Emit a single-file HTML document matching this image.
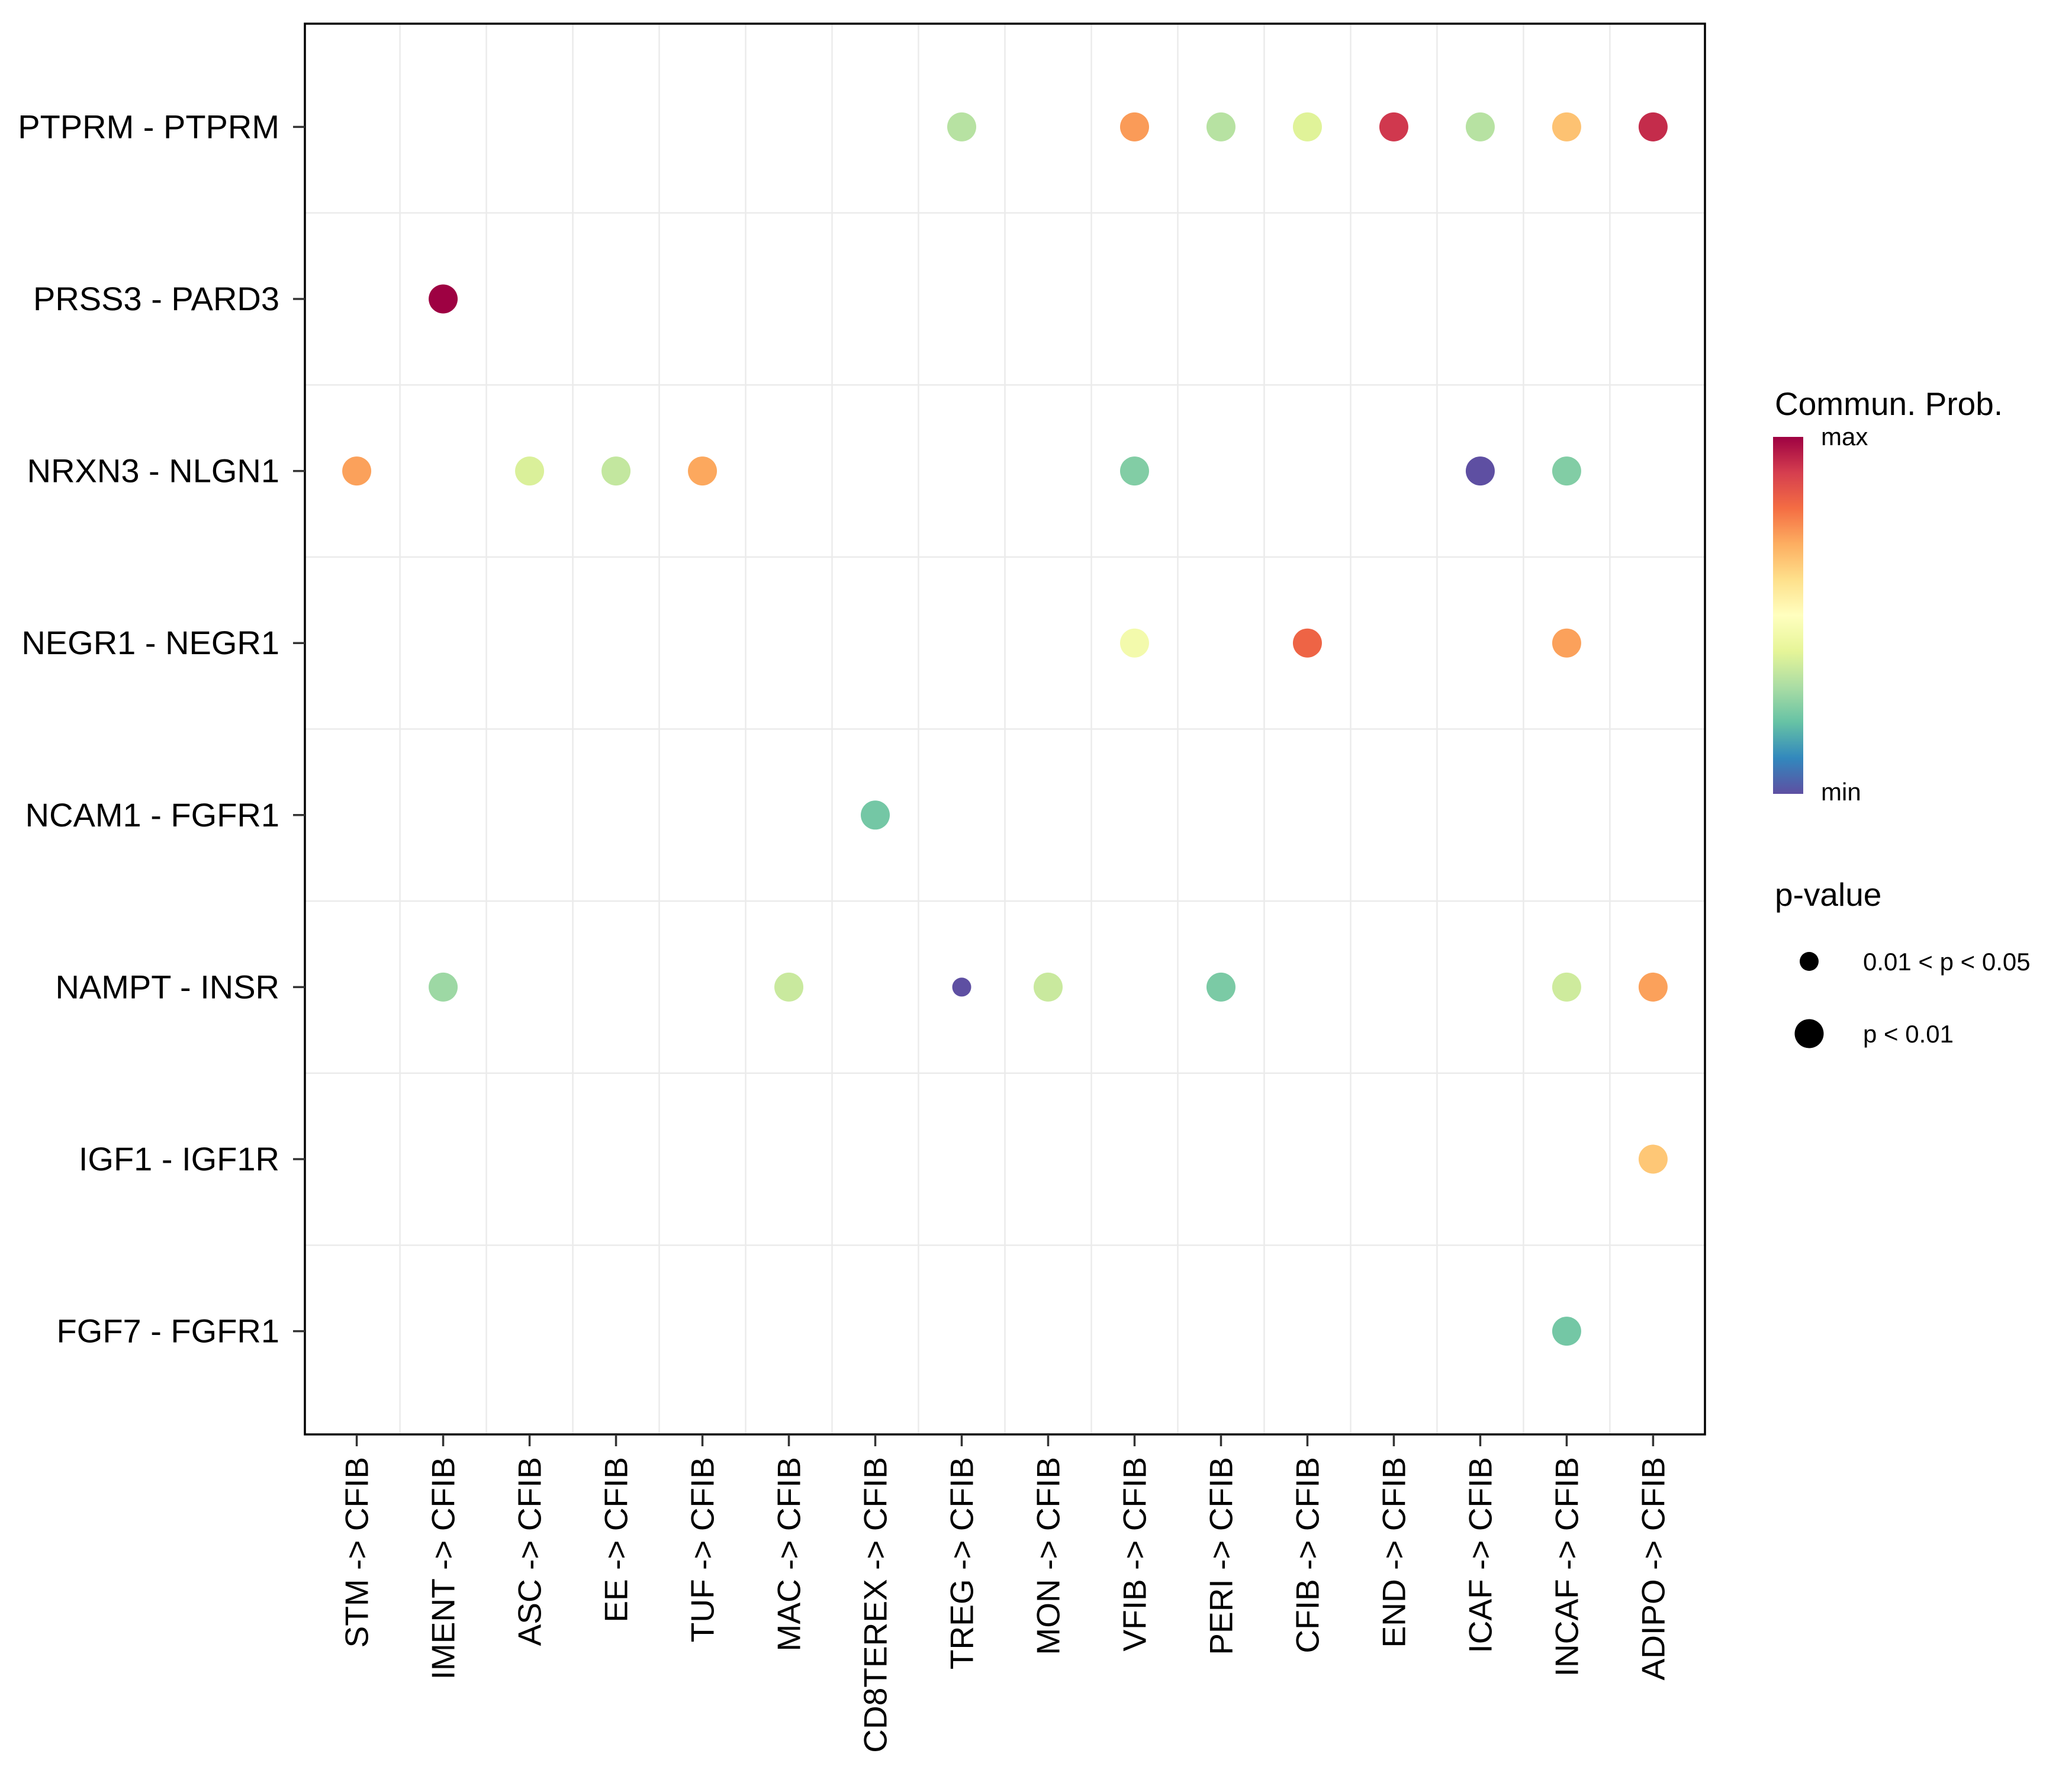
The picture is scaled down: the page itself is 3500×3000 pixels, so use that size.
<!DOCTYPE html>
<html><head><meta charset="utf-8"><style>
html,body{margin:0;padding:0;background:#fff;}
svg{display:block;font-family:"Liberation Sans",Arial,sans-serif;}
</style></head><body>
<svg id="chart" width="3500" height="3000" viewBox="0 0 3500 3000" xmlns="http://www.w3.org/2000/svg">
<defs>
<linearGradient id="spectral" x1="0" y1="1" x2="0" y2="0">
<stop offset="0" stop-color="#5E4FA2"/><stop offset="0.1" stop-color="#3288BD"/><stop offset="0.2" stop-color="#66C2A5"/><stop offset="0.3" stop-color="#ABDDA4"/><stop offset="0.4" stop-color="#E6F598"/><stop offset="0.5" stop-color="#FFFFBF"/><stop offset="0.6" stop-color="#FEE08B"/><stop offset="0.7" stop-color="#FDAE61"/><stop offset="0.8" stop-color="#F46D43"/><stop offset="0.9" stop-color="#D53E4F"/><stop offset="1" stop-color="#9E0142"/>
</linearGradient>
</defs>
<g id="grid"></g>
<g id="points"></g>
<rect x="515" y="40" width="2365" height="2383" fill="none" stroke="#000" stroke-width="3.5"/>
<g id="yaxis"></g>
<g id="xaxis"></g>
<g>
<text x="2998" y="701" font-size="55">Commun. Prob.</text>
<rect x="2995" y="738" width="51" height="603" fill="url(#spectral)"/>
<text x="3076" y="752" font-size="42">max</text>
<text x="3076" y="1352" font-size="42">min</text>
</g>
<g>
<text x="2998" y="1530" font-size="55">p-value</text>
<circle cx="3056" cy="1624" r="16" fill="#000"/>
<text x="3147" y="1639" font-size="42">0.01 &lt; p &lt; 0.05</text>
<circle cx="3056" cy="1746" r="24.5" fill="#000"/>
<text x="3147" y="1761" font-size="42">p &lt; 0.01</text>
</g>
</svg>
<script>
const columns = ["STM -> CFIB","IMENT -> CFIB","ASC -> CFIB","EE -> CFIB","TUF -> CFIB","MAC -> CFIB","CD8TEREX -> CFIB","TREG -> CFIB","MON -> CFIB","VFIB -> CFIB","PERI -> CFIB","CFIB -> CFIB","END -> CFIB","ICAF -> CFIB","INCAF -> CFIB","ADIPO -> CFIB"];
const rows = ["PTPRM - PTPRM","PRSS3 - PARD3","NRXN3 - NLGN1","NEGR1 - NEGR1","NCAM1 - FGFR1","NAMPT - INSR","IGF1 - IGF1R","FGF7 - FGFR1"];
const pointRow = [0,0,0,0,0,0,0,0, 1, 2,2,2,2,2,2,2, 3,3,3, 4, 5,5,5,5,5,5,5, 6, 7];
const pointCol = [7,9,10,11,12,13,14,15, 1, 0,2,3,4,9,13,14, 9,11,14, 6, 1,5,7,8,10,14,15, 15, 14];
const pointProb = [0.32,0.73,0.32,0.39,0.91,0.32,0.66,0.93, 1.0, 0.72,0.38,0.34,0.71,0.24,0.0,0.24, 0.45,0.82,0.72, 0.22, 0.28,0.35,0.0,0.35,0.23,0.36,0.72, 0.65, 0.22];
const pointSig = [1,1,1,1,1,1,1,1, 1, 1,1,1,1,1,1,1, 1,1,1, 1, 1,1,0,1,1,1,1, 1, 1];

const NS="http://www.w3.org/2000/svg";
const L=515,R=2880,T=40,B=2423;
const xStep=(R-L)/(columns.length-1+1.2), yStep=(B-T)/(rows.length-1+1.2);
function xPos(i){return L+(0.6+i)*xStep;}
function yPos(j){return T+(0.6+j)*yStep;}
const stops=["#5E4FA2","#3288BD","#66C2A5","#ABDDA4","#E6F598","#FFFFBF","#FEE08B","#FDAE61","#F46D43","#D53E4F","#9E0142"];
function hex(h){return [1,3,5].map(k=>parseInt(h.substr(k,2),16));}
function color(v){v=Math.max(0,Math.min(1,v));const p=v*10,i=Math.min(9,Math.floor(p)),f=p-i;const a=hex(stops[i]),b=hex(stops[i+1]);return "rgb("+a.map((c,k)=>Math.round(c+(b[k]-c)*f)).join(",")+")";}
function mk(tag,attrs,parent){const e=document.createElementNS(NS,tag);for(const k in attrs)e.setAttribute(k,attrs[k]);parent.appendChild(e);return e;}
const grid=document.getElementById("grid"),pts=document.getElementById("points"),ya=document.getElementById("yaxis"),xa=document.getElementById("xaxis");
for(let i=0;i<columns.length-1;i++){const x=(xPos(i)+xPos(i+1))/2;const l=mk("line",{x1:x,x2:x,y1:T,y2:B,stroke:"#ebebeb","stroke-width":2.5},grid);

}
for(let j=0;j<rows.length-1;j++){const y=(yPos(j)+yPos(j+1))/2;const l=mk("line",{x1:L,x2:R,y1:y,y2:y,stroke:"#ebebeb","stroke-width":2.5},grid);

}
rows.forEach((r,j)=>{const y=yPos(j);
const t=mk("line",{x1:L-20,x2:L,y1:y,y2:y,stroke:"#333","stroke-width":3.5},ya);


const tx=mk("text",{x:L-43,y:y+19,"font-size":56,"text-anchor":"end"},ya);tx.textContent=r;

});
columns.forEach((c,i)=>{const x=xPos(i);
const t=mk("line",{x1:x,x2:x,y1:B,y2:B+20,stroke:"#333","stroke-width":3.5},xa);


const tx=mk("text",{x:0,y:0,"font-size":55,"text-anchor":"end",transform:"translate("+(x+19)+","+(B+38)+") rotate(-90)"},xa);tx.textContent=c;

});
for(let k=0;k<pointRow.length;k++){
const c=mk("circle",{cx:xPos(pointCol[k]),cy:yPos(pointRow[k]),r:pointSig[k]?24.5:16,fill:color(pointProb[k])},pts);

}
</script>
</body></html>
